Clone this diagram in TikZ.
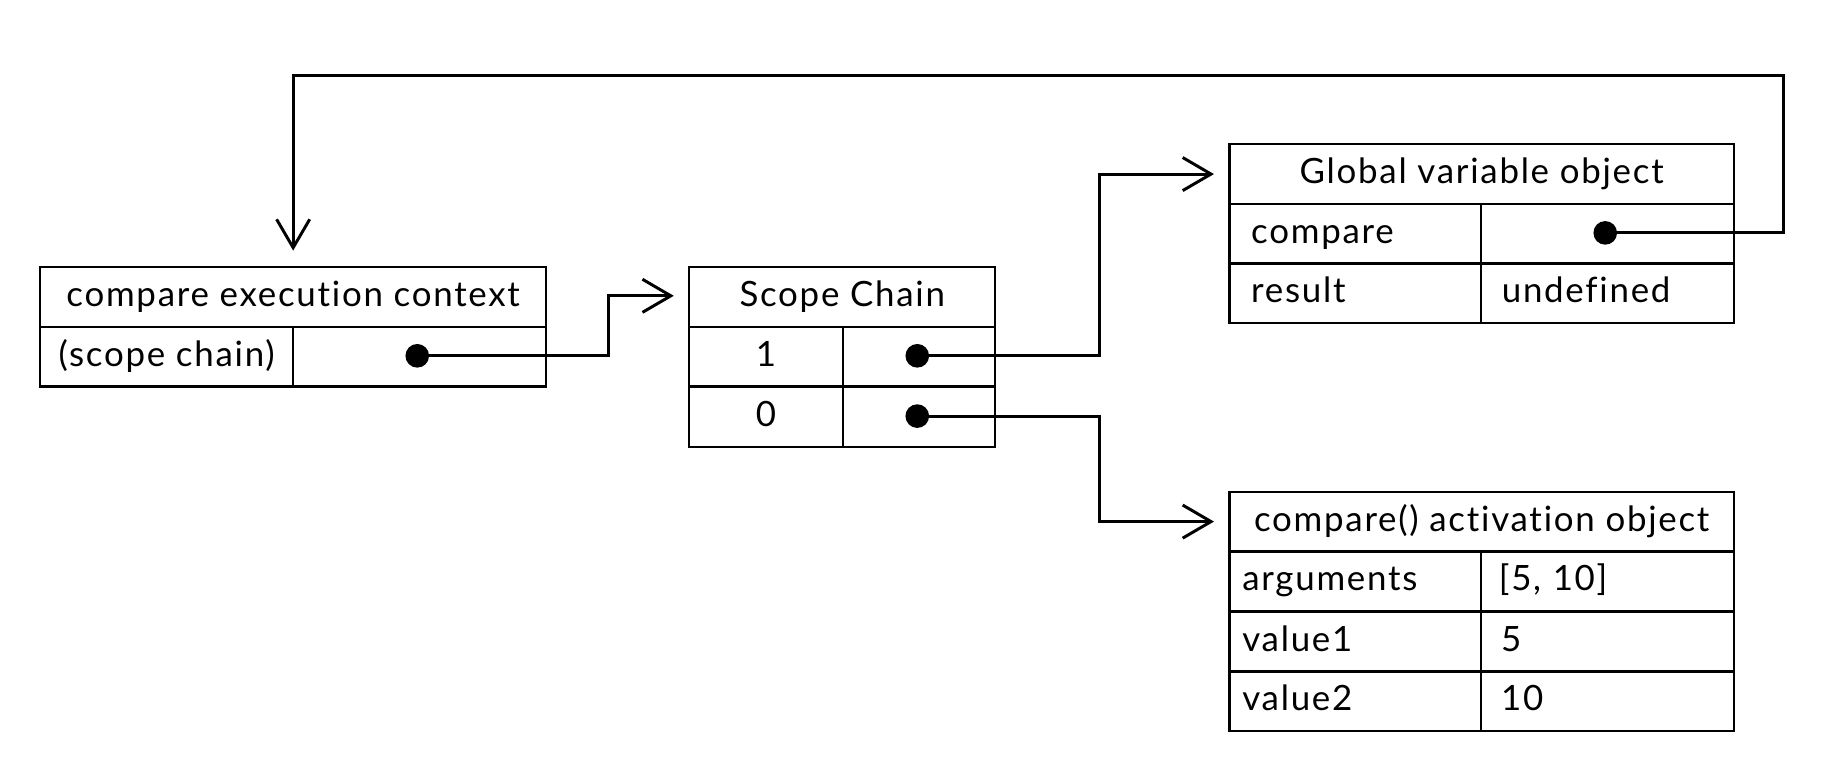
\documentclass[tikz,border=0pt]{standalone}
\usepackage{fontspec}
\setmainfont{Lato}[Ligatures=NoCommon, LetterSpace=5]
\usetikzlibrary{arrows.meta,calc}
\begin{document}
\begin{tikzpicture}[x=1pt,y=-1pt,
  every node/.style={font=\fontsize{29.5}{34}\selectfont},
  cellbox/.style={draw, line width=2pt, inner sep=0pt, anchor=north west,
    minimum height=50.5pt, text height=23pt, text depth=7pt},
  titlecell/.style={cellbox, align=center},
  leftcell/.style={cellbox, align=left},
  dot/.style={circle, fill=black, draw=none, inner sep=0pt, minimum size=20pt},
  conn/.style={line width=2.5pt, -{Straight Barb[length=24pt,width=28pt]}},
]
\fill[white] (0,0) rectangle (1560,646.3);
\useasboundingbox (0,0) rectangle (1560,646.3);

% Box A: compare execution context
\node[titlecell, minimum width=428pt] (tA) at (33,225) {compare execution context};
\node[titlecell, minimum width=214pt] (kA) at (33,275.5) {(scope chain)};
\node[cellbox, minimum width=214pt] (vA) at (247,275.5) {};

% Box B: Scope Chain
\node[titlecell, minimum width=259pt] (tB) at (582,225) {Scope Chain};
\node[titlecell, minimum width=130pt] (kB1) at (582,275.5) {1};
\node[cellbox, minimum width=129pt] (vB1) at (712,275.5) {};
\node[titlecell, minimum width=130pt] (kB0) at (582,326.5) {0};
\node[cellbox, minimum width=129pt] (vB0) at (712,326.5) {};

% Box C: Global variable object
\node[titlecell, minimum width=427pt] (tC) at (1039,121) {Global variable object};
\node[leftcell, inner xsep=18.5pt, text width=176pt] (kC1) at (1039,171.5) {compare};
\node[cellbox, minimum width=214pt] (vC1) at (1252,171.5) {};
\node[leftcell, inner xsep=18.5pt, text width=176pt] (kC2) at (1039,222) {result};
\node[leftcell, inner xsep=17.5pt, text width=179pt] (vC2) at (1252,222) {undefined};

% Box D: compare() activation object
\node[titlecell, minimum width=427pt] (tD) at (1039,415) {compare() activation object};
\node[leftcell, inner xsep=11pt, text width=191pt] (kD1) at (1039,465.5) {arguments};
\node[leftcell, inner xsep=15pt, text width=184pt] (vD1) at (1252,465.5) {[5, 10]};
\node[leftcell, inner xsep=11pt, text width=191pt] (kD2) at (1039,516.5) {value1};
\node[leftcell, inner xsep=17pt, text width=180pt] (vD2) at (1252,516.5) {5};
\node[leftcell, inner xsep=11pt, text width=191pt] (kD3) at (1039,567) {value2};
\node[leftcell, inner xsep=17pt, text width=180pt] (vD3) at (1252,567) {10};

% dots
\node[dot] (dA) at (353,301) {};
\node[dot] (dB1) at (776,301) {};
\node[dot] (dB0) at (776,352) {};
\node[dot] (dC) at (1358,197) {};

% connectors
\draw[conn] (dA.center) -| ($(tB.west)+(-67,-1)$) -- ($(tB.west)+(-12,-1)$);
\draw[conn] (dB1.center) -| ($(tC.west)+(-109,0)$) -- ($(tC.west)+(-12,0)$);
\draw[conn] (dB0.center) -| ($(tD.west)+(-109,0)$) -- ($(tD.west)+(-12,0)$);
\draw[conn] (dC.center) -- ($(dC.center)+(151,0)$) |- ($(tA.north)+(0,-161)$) -- ($(tA.north)+(0,-13)$);
\end{tikzpicture}
\end{document}
